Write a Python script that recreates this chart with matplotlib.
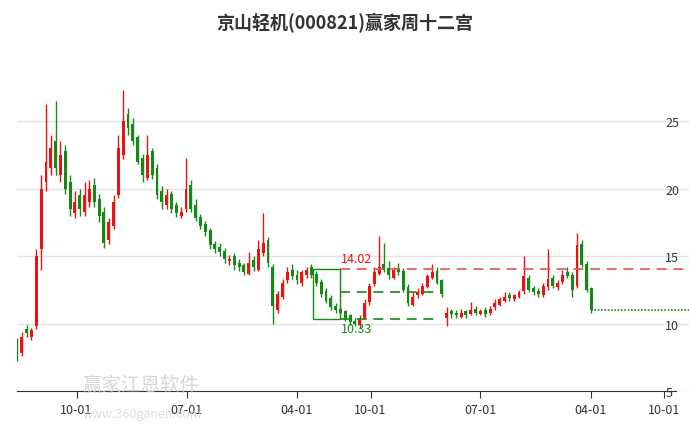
import matplotlib
matplotlib.use("Agg")
import matplotlib.pyplot as plt
import matplotlib.dates as mdates
import pandas as pd
import numpy as np

plt.rcParams['font.family'] = ['Noto Sans CJK SC', 'DejaVu Sans']

title = "京山轻机(000821)赢家周十二宫"
start_date = "2019-05-06"
step_days = 12

close = [7.5, 9.0, 9.3, 9.5, 15.0, 20.0, 22.0, 23.0, 21.5, 22.5,
         20.0, 18.5, 19.0, 18.5, 19.5, 20.0, 19.0, 18.0, 16.0, 17.5,
         19.0, 23.0, 25.0, 24.5, 23.5, 22.0, 21.0, 22.5, 21.0, 19.5,
         19.0, 19.5, 18.5, 18.2, 18.3, 20.0, 18.5, 17.8, 17.2, 16.8,
         15.8, 15.5, 15.3, 14.8, 14.8, 14.3, 14.2, 13.8, 14.5, 14.2,
         15.5, 16.0, 14.5, 11.3, 12.2, 13.0, 13.8, 13.5, 13.2, 13.8,
         14.0, 13.6, 13.0, 12.2, 11.7, 11.2, 11.0, 10.8, 10.4, 10.1,
         10.0, 10.3, 11.5, 12.8, 13.8, 14.2, 14.0, 13.6, 14.0, 13.8,
         12.5, 11.5, 12.0, 12.3, 12.8, 13.5, 13.8, 13.0, 12.2, 10.8,
         10.7, 10.6, 10.8, 10.6, 11.0, 10.8, 10.9, 10.7, 11.1, 11.5,
         11.8, 12.0, 11.9, 12.1, 12.3, 13.5, 12.5, 12.3, 12.2, 12.8,
         13.3, 12.8, 13.0, 13.6, 13.5, 12.5, 15.8, 14.3, 12.5, 11.0]
open_ = [8.5, 7.8, 9.6, 9.0, 9.8, 15.5, 20.5, 21.5, 23.5, 21.0,
         22.8, 20.5, 18.2, 19.5, 18.3, 19.0, 20.3, 19.2, 18.3, 16.2,
         17.2, 19.5, 22.5, 25.5, 24.8, 23.8, 22.3, 20.8, 22.8, 21.5,
         19.8, 18.8, 19.6, 18.8, 18.0, 18.5, 20.3, 18.8, 17.9, 17.4,
         16.9, 15.9, 15.7, 15.4, 14.6, 15.0, 14.5, 14.3, 13.7, 14.7,
         14.0, 15.2, 16.2, 14.2, 11.0, 12.0, 13.2, 14.0, 13.6, 13.0,
         13.6, 14.2, 13.7, 13.1, 12.4, 11.9, 11.3, 11.1, 10.9, 10.6,
         10.2, 9.9, 10.4, 11.6, 12.9, 13.7, 14.4, 14.1, 13.4, 14.1,
         13.9, 12.7, 11.4, 12.1, 12.2, 12.7, 13.4, 13.9, 13.2, 10.4,
         10.9, 10.8, 10.5, 10.9, 10.7, 11.1, 10.7, 11.0, 10.8, 11.2,
         11.4, 11.7, 12.1, 11.8, 12.0, 12.4, 13.4, 12.6, 12.4, 12.1,
         12.7, 13.4, 12.7, 13.1, 13.8, 13.6, 12.8, 15.9, 14.4, 12.6]
high = [8.9, 9.4, 9.9, 9.7, 15.5, 21.0, 26.3, 24.0, 26.5, 23.5,
        23.2, 21.0, 19.8, 20.0, 20.5, 20.6, 20.8, 19.6, 18.6, 17.8,
        19.5, 24.0, 27.3, 26.0, 25.2, 24.0, 22.6, 24.0, 23.0, 21.8,
        20.2, 20.0, 19.8, 19.0, 18.6, 22.3, 20.6, 19.2, 18.1, 17.6,
        17.1, 16.1, 16.0, 15.6, 15.1, 15.2, 14.8, 14.5, 15.3, 15.0,
        16.2, 18.2, 16.4, 14.4, 12.4, 13.3, 14.2, 14.4, 14.0, 14.0,
        14.2, 14.4, 13.9, 13.3, 12.6, 12.1, 11.5, 11.3, 11.0, 10.7,
        10.4, 10.6, 11.8, 13.0, 14.2, 16.5, 16.0, 14.6, 14.2, 14.5,
        14.1, 12.9, 12.3, 12.6, 13.0, 13.7, 14.4, 14.2, 13.3, 11.2,
        11.1, 11.0, 11.1, 11.0, 11.6, 11.3, 11.1, 11.2, 11.3, 11.8,
        12.0, 12.3, 12.3, 12.2, 12.5, 15.0, 13.6, 12.8, 12.6, 13.0,
        15.5, 13.6, 13.2, 14.0, 14.2, 13.8, 16.7, 16.2, 14.6, 12.7]
low = [7.2, 7.6, 9.0, 8.8, 9.6, 14.0, 19.8, 21.0, 21.0, 20.5,
       19.6, 18.0, 17.8, 18.0, 18.0, 18.6, 18.6, 17.5, 15.6, 15.9,
       17.0, 19.3, 22.2, 24.0, 23.2, 21.8, 20.5, 20.6, 20.7, 19.2,
       18.5, 18.5, 18.2, 17.9, 17.8, 18.3, 18.3, 17.6, 17.0, 16.5,
       15.5, 15.2, 15.0, 14.5, 14.3, 14.0, 13.9, 13.6, 13.6, 13.9,
       13.9, 15.0, 14.2, 10.0, 10.8, 11.8, 13.0, 13.3, 12.9, 12.8,
       13.4, 13.4, 12.8, 12.0, 11.5, 11.0, 10.8, 10.6, 10.2, 9.9,
       9.8, 9.7, 10.3, 11.4, 12.8, 13.6, 13.8, 13.3, 13.3, 13.6,
       12.3, 11.3, 11.3, 11.9, 12.1, 12.6, 13.3, 12.9, 12.0, 9.8,
       10.4, 10.4, 10.4, 10.4, 10.6, 10.6, 10.6, 10.5, 10.6, 11.0,
       11.3, 11.6, 11.7, 11.7, 11.9, 12.2, 12.3, 12.1, 12.0, 12.0,
       12.5, 12.6, 12.5, 12.9, 13.4, 12.0, 12.6, 14.2, 12.3, 10.8]

last_price = 11.0
resist = 14.02
support = 10.33
mid = 12.3
ylabels = [5, 10, 15, 20, 25]

RED = "#ee1111"
GREEN = "#138a13"

fig = plt.figure(figsize=(6.89, 4.27), dpi=100)
ax = fig.add_axes([0.0247, 0.082, 0.975, 0.79])

dates = pd.date_range(start_date, periods=len(close), freq=f"{step_days}D")
xs = mdates.date2num(dates)
w = step_days * 0.6
for x, o, c, h, l in zip(xs, open_, close, high, low):
    col = RED if c >= o else GREEN
    ax.vlines(x, l, h, color=col, lw=1)
    ax.bar(x, abs(c - o) if abs(c - o) > 0.05 else 0.08, bottom=min(o, c),
           width=w, color=col, lw=0)

d = lambda s: mdates.date2num(pd.Timestamp(s))
bx0, bx1, bx2 = d("2021-05-11"), d("2021-07-17"), d("2022-03-09")
ax.plot([bx0, bx1, bx1, bx0, bx0], [resist, resist, support, support, resist],
        color=GREEN, lw=1)
ax.hlines(resist, bx1, d("2023-12-01"), colors="#f05050", linestyles=(0, (6, 4)), lw=1.2)
ax.hlines([mid, support], bx1, bx2, colors=GREEN, linestyles=(0, (6, 4)), lw=1.2)
ax.text(bx1 + 3, resist + 0.3, f"{resist:.2f}", color=RED, fontsize=9, va="bottom")
ax.text(bx1 + 3, support - 0.2, f"{support:.2f}", color=GREEN, fontsize=9, va="top")
ax.hlines(last_price, xs[-1], d("2023-12-01"), colors=GREEN, linestyles=(0, (1, 1)), lw=1.2)

ax.set_xlim(d("2019-05-06"), d("2023-12-01"))
ax.set_ylim(5, 30)
ax.yaxis.tick_right()
ax.set_yticks(ylabels)
ax.tick_params(axis="y", length=0, labelsize=9, colors="#333333", pad=-17)
for v in ylabels:
    ax.axhline(v, color="#e3e3e3", lw=1, zorder=0)
ticks = ["2019-10-01", "2020-07-01", "2021-04-01", "2021-10-01", "2022-07-01", "2023-04-01", "2023-10-01"]
ax.set_xticks([d(t) for t in ticks])
ax.set_xticklabels([t[5:] for t in ticks])
ax.tick_params(axis="x", direction="out", length=5, labelsize=9, colors="#333333")
for s in ["top", "right", "left"]:
    ax.spines[s].set_visible(False)
ax.spines["bottom"].set_color("#333333")
ax.spines["bottom"].set_bounds(d("2019-05-06"), d("2023-10-31"))

fig.text(0.5, 0.945, title, ha="center", va="center", fontsize=13, fontweight="bold", color="#333333")
fig.text(0.12, 0.085, "赢家江恩软件", fontsize=14, color="#cccccc", alpha=0.8)
fig.text(0.12, 0.02, "www.360ganen.com", fontsize=9, color="#d5d5d5", alpha=0.8)

fig.savefig("out.png", dpi=100)
